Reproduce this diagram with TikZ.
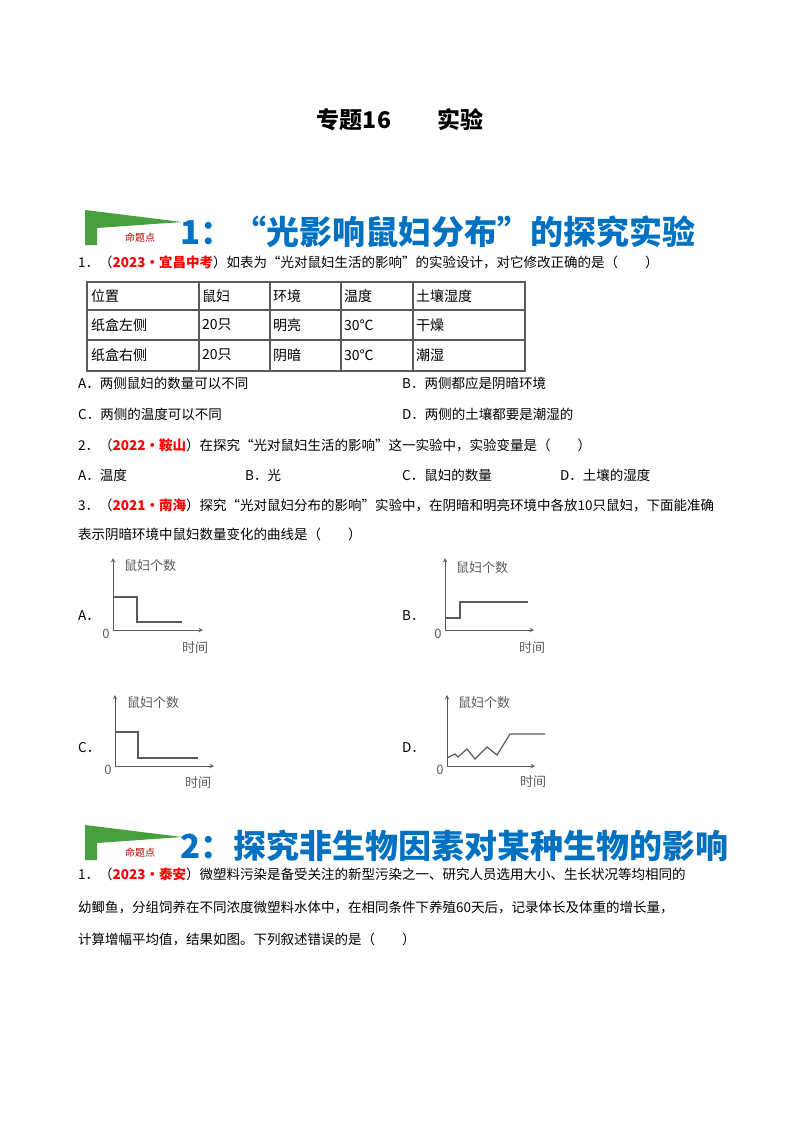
\documentclass[tikz,border=0pt]{standalone}
\usepackage{fontspec}
\setmainfont{Noto Sans CJK SC}
\usetikzlibrary{positioning}
\definecolor{hblue}{RGB}{0,112,192}
\definecolor{fgreen}{RGB}{70,160,60}
\definecolor{lgray}{RGB}{90,90,90}
\newcommand{\yr}[1]{\textcolor{red}{\bfseries #1}}
\tikzset{
  txt/.style={anchor=west, inner sep=0, font=\fontsize{13.5}{15}\selectfont},
  cell/.style={anchor=west, inner sep=0, font=\fontsize{14}{15}\selectfont},
  head/.style={anchor=west, inner sep=0, text=hblue, font=\fontsize{33}{36}\selectfont\bfseries},
  axis/.style={->, >=stealth, lgray, line width=1pt},
  curve/.style={lgray, line width=1.2pt},
  lab/.style={inner sep=0, lgray, font=\fontsize{13}{14}\selectfont}
}
\newcommand{\badge}[2]{%
  \fill[fgreen] (85,#1) -- (182,#1+12) -- (97,#1+18) -- (97,#1+35) -- (85,#1+35) -- cycle;
  \fill[white] (99,#1+19) rectangle (178,#1+36);
  \node[text=red!70!black, font=\fontsize{10}{10}\selectfont] (#2) at (140,#1+28) {命题点};}
\begin{document}
\begin{tikzpicture}[x=1pt,y=-1pt]
\useasboundingbox (0,0) rectangle (800,1132);
\node[font=\fontsize{23}{25}\selectfont\bfseries] (title) at (400,120) {专题16　　实验};
% section 1
\badge{210}{b1}
\node[head] (h1) at (180,232) {1：“光影响鼠妇分布”的探究实验};
\node[txt] (q1) at (78,262) {1．（\yr{2023·宜昌中考}）如表为“光对鼠妇生活的影响”的实验设计，对它修改正确的是（　　）};
% table
\draw[lgray, line width=2.5pt] (87,282) rectangle (525,371);
\foreach \y in {310,340} \draw[lgray, line width=2pt] (87,\y) -- (525,\y);
\foreach \x in {199,270,341,413} \draw[lgray, line width=2pt] (\x,282) -- (\x,371);
\node[cell] (t11) at (91,296) {位置};
\node[cell] (t12) at (202,296) {鼠妇};
\node[cell] (t13) at (273,296) {环境};
\node[cell] (t14) at (344,296) {温度};
\node[cell] (t15) at (416,296) {土壤湿度};
\node[cell] (t21) at (91,325) {纸盒左侧};
\node[cell] (t22) at (202,325) {20只};
\node[cell] (t23) at (273,325) {明亮};
\node[cell] (t24) at (344,325) {30℃};
\node[cell] (t25) at (416,325) {干燥};
\node[cell] (t31) at (91,355) {纸盒右侧};
\node[cell] (t32) at (202,355) {20只};
\node[cell] (t33) at (273,355) {阴暗};
\node[cell] (t34) at (344,355) {30℃};
\node[cell] (t35) at (416,355) {潮湿};
\node[txt] (o1a) at (78,383) {A．两侧鼠妇的数量可以不同};
\node[txt] (o1b) at (402,383) {B．两侧都应是阴暗环境};
\node[txt] (o1c) at (78,414) {C．两侧的温度可以不同};
\node[txt] (o1d) at (402,414) {D．两侧的土壤都要是潮湿的};
\node[txt] (q2) at (78,445) {2．（\yr{2022·鞍山}）在探究“光对鼠妇生活的影响”这一实验中，实验变量是（　　）};
\node[txt] (o2a) at (78,475) {A．温度};
\node[txt] (o2b) at (245,475) {B．光};
\node[txt] (o2c) at (402,475) {C．鼠妇的数量};
\node[txt] (o2d) at (560,475) {D．土壤的湿度};
\node[txt] (q3) at (78,505) {3．（\yr{2021·南海}）探究“光对鼠妇分布的影响”实验中，在阴暗和明亮环境中各放10只鼠妇，下面能准确};
\node[txt] (q3b) at (78,534) {表示阴暗环境中鼠妇数量变化的曲线是（　　）};
% graphs
\node[txt] (la) at (78,616) {A．};
\coordinate (oa) at (113,630);
\draw[axis] (oa) -- (113,558);
\draw[axis] (oa) -- (203,630);
\draw[curve] (113,597) -- (137,597) -- (137,622) -- (182,622);
\node[lab, anchor=west] (ya) at (124,566) {鼠妇个数};
\node[lab] (xa) at (195,648) {时间};
\node[lab] (za) at (106,634) {0};
\node[txt] (lb) at (402,616) {B．};
\coordinate (ob) at (445,630);
\draw[axis] (ob) -- (445,558);
\draw[axis] (ob) -- (534,630);
\draw[curve] (445,618) -- (460,618) -- (460,602) -- (528,602);
\node[lab, anchor=west] (yb) at (456,568) {鼠妇个数};
\node[lab] (xb) at (532,648) {时间};
\node[lab] (zb) at (438,634) {0};
\node[txt] (lc) at (78,748) {C．};
\coordinate (oc) at (115,766);
\draw[axis] (oc) -- (115,695);
\draw[axis] (oc) -- (214,766);
\draw[curve] (115,732) -- (138,732) -- (138,758) -- (198,758);
\node[lab, anchor=west] (yc) at (127,703) {鼠妇个数};
\node[lab] (xc) at (198,783) {时间};
\node[lab] (zc) at (108,770) {0};
\node[txt] (ld) at (402,748) {D．};
\coordinate (od) at (447,766);
\draw[axis] (od) -- (447,695);
\draw[axis] (od) -- (535,766);
\draw[curve] (447,758) -- (455,754) -- (458,757) -- (467,749) -- (475,759) -- (487,747) -- (497,755) -- (510,734) -- (545,734);
\node[lab, anchor=west] (yd) at (458,703) {鼠妇个数};
\node[lab] (xd) at (533,782) {时间};
\node[lab] (zd) at (440,770) {0};
% section 2
\badge{825}{b2}
\node[head] (h2) at (180,846) {2：探究非生物因素对某种生物的影响};
\node[txt] (p1) at (78,874) {1．（\yr{2023·泰安}）微塑料污染是备受关注的新型污染之一、研究人员选用大小、生长状况等均相同的};
\node[txt] (p2) at (78,907) {幼鲫鱼，分组饲养在不同浓度微塑料水体中，在相同条件下养殖60天后，记录体长及体重的增长量，};
\node[txt] (p3) at (78,939) {计算增幅平均值，结果如图。下列叙述错误的是（　　）};
\end{tikzpicture}
\end{document}
